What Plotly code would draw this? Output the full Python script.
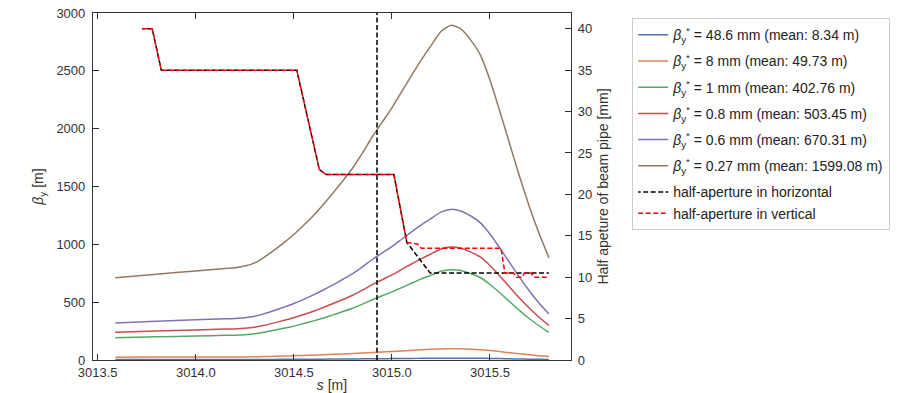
import plotly.graph_objects as go

# ---- data ----
s = [3013.59, 3013.80, 3014.00, 3014.15, 3014.20, 3014.25, 3014.30, 3014.35, 3014.40,
     3014.45, 3014.50, 3014.55, 3014.60, 3014.65, 3014.70, 3014.75, 3014.80, 3014.85,
     3014.90, 3014.95, 3015.00, 3015.05, 3015.10, 3015.15, 3015.20, 3015.25, 3015.30,
     3015.35, 3015.40, 3015.45, 3015.50, 3015.55, 3015.60, 3015.65, 3015.70, 3015.75,
     3015.80]

beta_486 = [4.0, 4.1, 4.3, 4.4, 4.4, 4.5, 4.7, 4.9, 5.3, 5.6, 6.0, 6.5, 6.9, 7.5, 8.0, 8.6,
            9.2, 10.0, 10.7, 11.4, 12.1, 12.9, 13.7, 14.4, 15.1, 15.8, 16.1, 15.9, 15.4,
            14.7, 13.5, 12.0, 10.4, 8.8, 7.4, 6.1, 4.9]
beta_8 = [24, 25, 26, 27, 27, 27, 28, 30, 32, 34, 37, 39, 42, 45, 49, 52, 56, 60, 65, 69,
          74, 78, 83, 88, 92, 96, 98, 97, 94, 89, 82, 73, 63, 54, 45, 37, 30]
beta_1 = [192, 200, 208, 213, 215, 219, 227, 240, 257, 274, 293, 315, 338, 363, 390, 419,
          448, 483, 521, 555, 589, 626, 664, 701, 734, 767, 781, 774, 748, 713, 653, 581,
          505, 429, 359, 296, 239]
beta_08 = [240, 250, 260, 267, 269, 274, 284, 300, 321, 343, 366, 393, 422, 454, 488, 523,
           560, 604, 651, 694, 736, 783, 830, 876, 918, 959, 976, 967, 935, 891, 817, 726,
           631, 537, 449, 370, 299]
beta_06 = [320, 334, 347, 356, 359, 365, 378, 401, 428, 457, 488, 524, 563, 605, 650, 698,
           747, 806, 869, 925, 981, 1044, 1107, 1168, 1224, 1278, 1302, 1289, 1247, 1188,
           1089, 968, 842, 716, 599, 493, 398]
beta_027 = [712, 742, 770, 790, 798, 812, 840, 890, 950, 1015, 1085, 1165, 1250, 1345,
            1445, 1550, 1660, 1790, 1930, 2055, 2180, 2320, 2460, 2595, 2720, 2840, 2893,
            2865, 2770, 2640, 2420, 2150, 1870, 1590, 1330, 1095, 885]

labels = [
    "<i>β</i><sub>y</sub><sup>*</sup> = 48.6 mm (mean: 8.34 m)",
    "<i>β</i><sub>y</sub><sup>*</sup> = 8 mm (mean: 49.73 m)",
    "<i>β</i><sub>y</sub><sup>*</sup> = 1 mm (mean: 402.76 m)",
    "<i>β</i><sub>y</sub><sup>*</sup> = 0.8 mm (mean: 503.45 m)",
    "<i>β</i><sub>y</sub><sup>*</sup> = 0.6 mm (mean: 670.31 m)",
    "<i>β</i><sub>y</sub><sup>*</sup> = 0.27 mm (mean: 1599.08 m)",
]
colors = ["#4C72B0", "#DD8452", "#55A868", "#C44E52", "#8172B3", "#937860"]

ap_h_s = [3013.727, 3013.778, 3013.824, 3014.515, 3014.63, 3014.665, 3015.01, 3015.076,
          3015.195, 3015.80]
ap_h = [40, 40, 35, 35, 23, 22.4, 22.4, 14.2, 10.5, 10.5]

ap_v_s = [3013.727, 3013.778, 3013.824, 3014.515, 3014.63, 3014.665, 3015.01, 3015.076,
          3015.13, 3015.15, 3015.556, 3015.576, 3015.62, 3015.635, 3015.665, 3015.675,
          3015.71, 3015.725, 3015.80]
ap_v = [40, 40, 35, 35, 23, 22.4, 22.4, 14.2, 14.0, 13.5, 13.5, 10.5, 10.5, 10.0, 10.0,
        10.5, 10.5, 10.0, 10.0]

marker_s = 3014.924

FONT = "Liberation Sans, Arial, sans-serif"
AX = "#333333"

fig = go.Figure()
for i, (vals, lab, col) in enumerate(zip([beta_486, beta_8, beta_1, beta_08, beta_06, beta_027],
                                         labels, colors)):
    fig.add_trace(go.Scatter(x=s, y=vals, mode="lines", name=lab, legendgroup=f"g{i}",
                             line=dict(color=col, width=1.5, shape="spline", smoothing=0.5)))

fig.add_trace(go.Scatter(x=ap_h_s, y=ap_h, mode="lines", name="half-aperture in horizontal",
                         yaxis="y2", legendgroup="ap",
                         line=dict(color="black", width=1.5, dash="2.5px,2.5px,2.5px,0px")))
fig.add_trace(go.Scatter(x=ap_v_s, y=ap_v, mode="lines", name="half-aperture in vertical",
                         yaxis="y2", legendgroup="ap",
                         line=dict(color="red", width=1.5, dash="5px,2.5px")))

fig.add_vline(x=marker_s, line=dict(color="black", width=1.5, dash="5px,2.5px"))

fig.update_layout(
    width=907, height=393,
    margin=dict(l=93, r=336, t=13, b=33, autoexpand=False),
    paper_bgcolor="white", plot_bgcolor="white",
    font=dict(family=FONT, size=13, color=AX),
    showlegend=True,
    legend=dict(x=1.128, y=0.985, xanchor="left", yanchor="top",
                bgcolor="white", bordercolor="#cccccc", borderwidth=1,
                font=dict(size=14, color="#222222"), itemwidth=30,
                traceorder="grouped", tracegroupgap=5),
    xaxis=dict(range=[3013.476, 3015.913], tickvals=[3013.5, 3014.0, 3014.5, 3015.0, 3015.5],
               ticktext=["3013.5", "3014.0", "3014.5", "3015.0", "3015.5"], automargin=False,
               showgrid=False, zeroline=False, showline=True, linecolor=AX, linewidth=1.2,
               mirror="ticks", ticks="inside", ticklen=6, tickcolor=AX,
               title=dict(text="<i>s</i> [m]", standoff=6, font=dict(size=14))),
    yaxis=dict(range=[0, 3000], tickvals=[0, 500, 1000, 1500, 2000, 2500, 3000],
               automargin=False,
               showgrid=False, zeroline=False, showline=True, linecolor=AX, linewidth=1.2,
               ticks="inside", ticklen=6, tickcolor=AX, ticklabelstandoff=4,
               title=dict(text="<i>β</i><sub>y</sub> [m]", standoff=9, font=dict(size=14))),
    yaxis2=dict(range=[0, 41.9], overlaying="y", side="right", automargin=False,
                tickvals=[0, 5, 10, 15, 20, 25, 30, 35, 40],
                showgrid=False, zeroline=False, showline=True, linecolor=AX, linewidth=1.2,
                ticks="inside", ticklen=6, tickcolor=AX, ticklabelstandoff=3,
                title=dict(text="Half apeture of beam pipe [mm]", standoff=7, font=dict(size=14))),
)

fig.write_html("out.html")
